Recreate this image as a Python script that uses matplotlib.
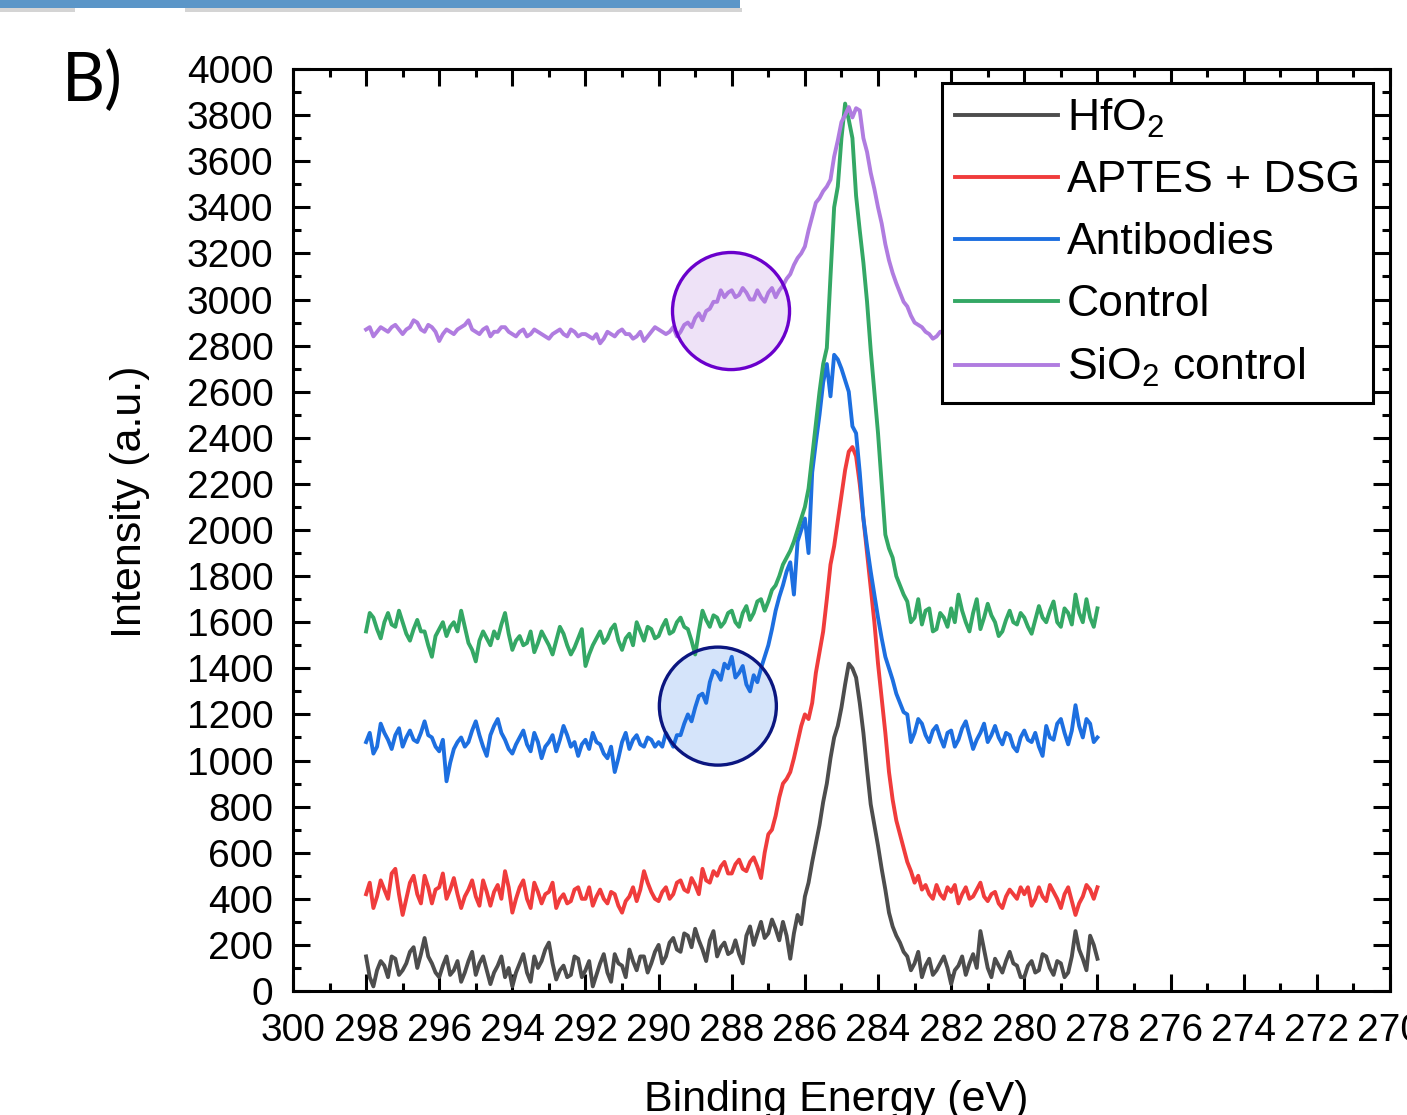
import numpy as np
import matplotlib
matplotlib.use("Agg")
import matplotlib.pyplot as plt
from matplotlib.patches import Ellipse, Rectangle

plt.rcParams['font.family'] = ['Liberation Sans', 'DejaVu Sans']
plt.rcParams['mathtext.fontset'] = 'custom'
plt.rcParams['mathtext.rm'] = 'Liberation Sans'
plt.rcParams['mathtext.it'] = 'Liberation Sans:italic'

# binding energy grid (eV), 298 -> 278 in 0.1 steps
energy = np.round(np.arange(298.0, 277.99, -0.1), 1)

hfo2 = [150, 60, 20, 90, 130, 110, 60, 150, 140, 70, 90, 120, 170, 190, 100, 160, 230, 150, 120, 80,
        60, 110, 150, 70, 90, 130, 40, 80, 130, 170, 70, 120, 150, 90, 30, 80, 110, 150, 60, 100,
        20, 80, 120, 160, 80, 40, 150, 100, 130, 180, 210, 120, 50, 90, 110, 60, 70, 150, 140, 60,
        90, 130, 20, 70, 120, 160, 80, 40, 160, 120, 110, 60, 180, 130, 90, 150, 150, 80, 120, 170,
        200, 120, 150, 210, 230, 180, 170, 250, 240, 190, 270, 220, 180, 130, 220, 260, 150, 190, 210, 160,
        170, 220, 160, 120, 240, 280, 200, 250, 300, 230, 250, 310, 270, 220, 300, 240, 140, 250, 330, 290,
        410, 470, 560, 640, 720, 820, 900, 1010, 1100, 1150, 1230, 1330, 1420, 1400, 1360, 1250, 1120, 960, 810, 720,
        630, 530, 440, 340, 280, 240, 210, 170, 150, 90, 120, 170, 60, 110, 140, 70, 90, 120, 150, 100,
        30, 90, 110, 150, 70, 120, 160, 100, 260, 180, 100, 60, 140, 110, 80, 130, 170, 120, 110, 60,
        60, 110, 130, 80, 90, 160, 150, 100, 70, 130, 120, 60, 80, 150, 260, 180, 140, 90, 240, 200,
        140]

aptes_dsg = [420, 470, 360, 410, 480, 440, 400, 510, 530, 420, 330, 400, 470, 500, 420, 380, 500, 450, 380, 440,
             450, 510, 400, 440, 490, 420, 360, 410, 440, 480, 410, 370, 480, 430, 370, 430, 460, 400, 520, 450,
             340, 400, 450, 480, 400, 360, 470, 430, 380, 420, 430, 470, 360, 400, 420, 380, 390, 440, 450, 400,
             400, 450, 370, 410, 440, 400, 380, 430, 420, 370, 340, 390, 410, 450, 390, 440, 520, 470, 430, 400,
             390, 430, 450, 400, 420, 470, 480, 440, 430, 490, 460, 420, 530, 480, 470, 520, 500, 540, 560, 510,
             510, 550, 570, 530, 520, 560, 580, 540, 490, 600, 680, 700, 760, 840, 900, 920, 950, 1010, 1080, 1150,
             1200, 1180, 1250, 1380, 1470, 1560, 1700, 1850, 1930, 2040, 2150, 2260, 2340, 2360, 2320, 2200, 2050, 1900, 1750, 1600,
             1420, 1270, 1120, 950, 830, 740, 680, 620, 560, 520, 470, 500, 440, 460, 420, 400, 460, 420, 400, 450,
             430, 460, 380, 420, 450, 400, 410, 440, 470, 410, 390, 420, 430, 380, 360, 410, 440, 420, 400, 450,
             420, 450, 370, 400, 450, 410, 390, 460, 430, 400, 360, 420, 450, 390, 330, 380, 410, 460, 440, 400,
             450]

antibodies = [1080, 1120, 1030, 1060, 1160, 1120, 1090, 1050, 1110, 1140, 1060, 1100, 1130, 1090, 1080, 1120, 1170, 1110, 1100, 1060,
              1040, 1090, 910, 990, 1050, 1080, 1100, 1060, 1080, 1130, 1170, 1110, 1060, 1020, 1110, 1150, 1180, 1120, 1090, 1050,
              1030, 1070, 1100, 1130, 1070, 1040, 1120, 1080, 1010, 1060, 1080, 1110, 1040, 1090, 1150, 1110, 1060, 1080, 1020, 1070,
              1090, 1050, 1120, 1080, 1070, 1030, 1010, 1060, 950, 1010, 1080, 1120, 1050, 1090, 1110, 1070, 1060, 1100, 1090, 1060,
              1080, 1060, 1120, 1090, 1060, 1110, 1110, 1160, 1200, 1170, 1230, 1280, 1290, 1250, 1340, 1390, 1380, 1350, 1420, 1400,
              1450, 1360, 1380, 1410, 1330, 1300, 1370, 1340, 1400, 1450, 1500, 1570, 1650, 1710, 1760, 1820, 1860, 1720, 1950, 2000,
              2050, 1900, 2250, 2380, 2500, 2640, 2720, 2580, 2760, 2740, 2700, 2650, 2600, 2450, 2420, 2250, 2050, 1930, 1820, 1720,
              1620, 1530, 1450, 1400, 1350, 1290, 1250, 1210, 1200, 1080, 1120, 1180, 1160, 1110, 1080, 1130, 1150, 1100, 1060, 1120,
              1130, 1060, 1090, 1140, 1170, 1110, 1050, 1090, 1120, 1160, 1080, 1110, 1150, 1100, 1070, 1120, 1110, 1060, 1040, 1100,
              1130, 1090, 1080, 1120, 1060, 1020, 1150, 1100, 1090, 1160, 1180, 1120, 1070, 1130, 1240, 1150, 1100, 1180, 1160, 1080,
              1100]

control = [1560, 1640, 1620, 1570, 1530, 1600, 1640, 1590, 1580, 1650, 1600, 1550, 1520, 1570, 1610, 1560, 1560, 1500, 1450, 1540,
           1570, 1600, 1540, 1580, 1600, 1560, 1650, 1580, 1510, 1480, 1430, 1520, 1560, 1530, 1500, 1560, 1530, 1590, 1640, 1550,
           1480, 1520, 1540, 1500, 1510, 1560, 1470, 1510, 1560, 1530, 1500, 1460, 1520, 1580, 1550, 1500, 1460, 1490, 1530, 1570,
           1410, 1460, 1500, 1530, 1560, 1510, 1530, 1570, 1590, 1520, 1480, 1530, 1550, 1500, 1600, 1560, 1520, 1580, 1570, 1530,
           1540, 1580, 1610, 1550, 1560, 1600, 1620, 1580, 1570, 1520, 1460, 1560, 1650, 1610, 1580, 1630, 1620, 1580, 1600, 1640,
           1650, 1600, 1580, 1640, 1670, 1610, 1640, 1690, 1700, 1650, 1690, 1740, 1760, 1800, 1850, 1880, 1910, 1950, 2000, 2050,
           2100, 2180, 2320, 2460, 2600, 2720, 2790, 3100, 3400, 3490, 3700, 3850, 3780, 3700, 3450, 3300, 3160, 2990, 2780, 2600,
           2420, 2200, 1980, 1920, 1880, 1800, 1760, 1720, 1690, 1600, 1620, 1700, 1590, 1650, 1660, 1560, 1570, 1640, 1620, 1580,
           1660, 1600, 1720, 1650, 1600, 1560, 1640, 1700, 1570, 1620, 1680, 1630, 1600, 1540, 1560, 1610, 1650, 1600, 1590, 1640,
           1620, 1580, 1550, 1610, 1670, 1620, 1600, 1650, 1690, 1600, 1580, 1660, 1640, 1590, 1720, 1640, 1600, 1700, 1620, 1580,
           1660]

sio2_control = [2870, 2880, 2840, 2860, 2880, 2870, 2860, 2880, 2890, 2870, 2850, 2870, 2880, 2910, 2900, 2870, 2860, 2890, 2880, 2860,
                2820, 2850, 2870, 2860, 2850, 2870, 2880, 2890, 2910, 2870, 2860, 2850, 2870, 2880, 2840, 2860, 2860, 2880, 2880, 2860,
                2850, 2840, 2860, 2870, 2840, 2850, 2870, 2860, 2850, 2840, 2830, 2850, 2860, 2870, 2850, 2840, 2870, 2860, 2840, 2850,
                2850, 2840, 2830, 2850, 2810, 2830, 2860, 2850, 2840, 2860, 2870, 2850, 2850, 2830, 2840, 2860, 2820, 2840, 2860, 2880,
                2870, 2860, 2850, 2860, 2880, 2840, 2860, 2890, 2900, 2880, 2920, 2940, 2910, 2950, 2960, 2990, 2990, 3040, 3010, 3030,
                3040, 3010, 3020, 3050, 3030, 3000, 3000, 3040, 3010, 2990, 3030, 3050, 3010, 3040, 3060, 3090, 3110, 3150, 3180, 3200,
                3230, 3300, 3360, 3420, 3440, 3470, 3490, 3520, 3620, 3690, 3770, 3800, 3835, 3790, 3830, 3820, 3700, 3640, 3550, 3480,
                3400, 3330, 3240, 3170, 3115, 3070, 3030, 2990, 2970, 2930, 2900, 2890, 2880, 2860, 2850, 2830, 2840, 2860, 2860, 2850,
                2850, 2860, 2860, 2840, 2840, 2860, 2870, 2850, 2850, 2840, 2860, 2870, 2840, 2850, 2870, 2860, 2850, 2840, 2860, 2850,
                2840, 2850, 2860, 2870, 2850, 2860, 2870, 2850, 2850, 2840, 2840, 2860, 2860, 2850, 2850, 2870, 2870, 2860, 2850, 2840,
                2860]

labels = ['HfO$_2$', 'APTES + DSG', 'Antibodies', 'Control', 'SiO$_2$ control']
colors = ['#4d4d4d', '#f03c3c', '#1d6fe0', '#34a865', '#b07ce0']

fig = plt.figure(figsize=(14.07, 11.15), dpi=100)
ax = fig.add_axes([0.2082, 0.1112, 0.7797, 0.8269])

# highlighted shoulder regions
ax.add_patch(Ellipse((288.02, 2950), 3.2, 508, facecolor='#eee2f7', edgecolor='none', zorder=1))
ax.add_patch(Ellipse((288.38, 1236), 3.2, 512, facecolor='#d5e4fa', edgecolor='none', zorder=1))

for y, lab, c in zip([hfo2, aptes_dsg, antibodies, control, sio2_control], labels, colors):
    ax.plot(energy, y, color=c, lw=2.8, label=lab, zorder=2)

ax.add_patch(Ellipse((288.02, 2950), 3.2, 508, fill=False, edgecolor='#6a00cc', lw=2.4, zorder=3))
ax.add_patch(Ellipse((288.38, 1236), 3.2, 512, fill=False, edgecolor='#0b1680', lw=2.4, zorder=3))

ax.set_xlim(300, 270)
ax.set_ylim(0, 4000)
ax.set_xticks(np.arange(300, 269, -2))
ax.set_xticks(np.arange(300, 269, -1), minor=True)
ax.set_yticks(np.arange(0, 4001, 200))
ax.set_yticks(np.arange(0, 4001, 100), minor=True)
ax.tick_params(which='both', direction='in', top=True, right=True, width=2.2)
ax.tick_params(which='major', length=12, labelsize=28)
ax.tick_params(which='minor', length=6)
ax.tick_params(axis='x', pad=16)
ax.tick_params(axis='y', pad=14)
for s in ax.spines.values():
    s.set_linewidth(2.2)

ax.set_xlabel('Binding Energy (eV)', fontsize=31)
ax.set_ylabel('Intensity (a.u.)', fontsize=31)
ax.xaxis.set_label_coords(0.495, -0.097)
ax.yaxis.set_label_coords(-0.13, 0.531)

leg = ax.legend(loc='upper right', bbox_to_anchor=(0.9845, 0.9848), borderaxespad=0,
                fontsize=32, handlelength=2.3, handletextpad=0.2, labelspacing=0.47,
                borderpad=0.3, fancybox=False, framealpha=1, edgecolor='black')
leg.get_frame().set_linewidth(2.2)
leg.set_zorder(5)

fig.text(0.044, 0.955, 'B)', fontsize=48, family='Lato', va='top', ha='left')

# header strip
fig.add_artist(Rectangle((0, 1 - 12 / 1115), 742 / 1407, 4 / 1115, transform=fig.transFigure,
                         facecolor='#d4d4d4', edgecolor='none'))
fig.add_artist(Rectangle((75 / 1407, 1 - 14 / 1115), 110 / 1407, 6 / 1115, transform=fig.transFigure,
                         facecolor='white', edgecolor='none'))
fig.add_artist(Rectangle((0, 1 - 8 / 1115), 740 / 1407, 8 / 1115, transform=fig.transFigure,
                         facecolor='#5b96c8', edgecolor='none'))

fig.savefig('out.png', dpi=100)
